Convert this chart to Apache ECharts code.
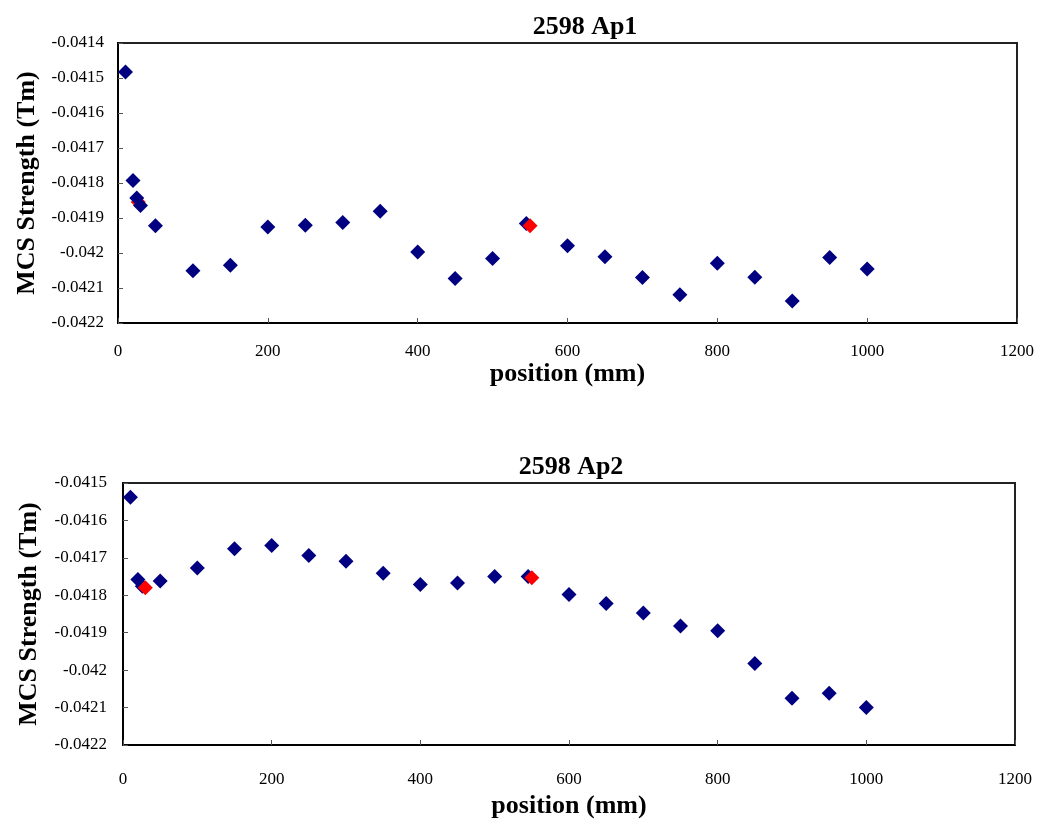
<!DOCTYPE html>
<html>
<head>
<meta charset="utf-8">
<script src="https://cdn.jsdelivr.net/npm/echarts@6/dist/echarts.min.js"></script>
<style>
  html, body { margin: 0; padding: 0; background: #fff; }
  #chart { width: 1040px; height: 820px; }
</style>
</head>
<body>
<div id="chart"></div>
<script>
// ---- Data ----
var ap1Title = '2598 Ap1';
var ap2Title = '2598 Ap2';
var xName = 'position (mm)';
var yName = 'MCS Strength (Tm)';

// Ap1 (top)
var ap1Blue = [
  [10, -0.041483], [20, -0.041793], [25, -0.041843], [30, -0.041864], [50, -0.041922],
  [100, -0.042051], [150, -0.042035], [200, -0.041926], [250, -0.041921], [300, -0.041913],
  [350, -0.041881], [400, -0.041997], [450, -0.042073], [500, -0.042016], [545, -0.041916],
  [600, -0.041979], [650, -0.042011], [700, -0.042070], [750, -0.042119], [800, -0.042029],
  [850, -0.042069], [900, -0.042137], [950, -0.042013], [1000, -0.042046]
];
var ap1RedUnder = [[27, -0.041854]];
var ap1RedOver = [[550, -0.041922]];

// Ap2 (bottom)
var ap2Blue = [
  [10, -0.041538], [20, -0.041758], [26, -0.041776], [50, -0.041762], [100, -0.041727],
  [150, -0.041676], [200, -0.041667], [250, -0.041694], [300, -0.041709], [350, -0.041741],
  [400, -0.041771], [450, -0.041767], [500, -0.041750], [545, -0.041750], [600, -0.041798],
  [650, -0.041822], [700, -0.041847], [750, -0.041882], [800, -0.041895], [850, -0.041982],
  [900, -0.042075], [950, -0.042062], [1000, -0.042100]
];
var ap2Red = [[30, -0.041780], [550, -0.041753]];

// Axis ranges
var xMin = 0, xMax = 1200, xStep = 200;
var ap1YMin = -0.0422, ap1YMax = -0.0414;
var ap2YMin = -0.0422, ap2YMax = -0.0415;
var yStep = 0.0001;

// ---- Styles ----
var FONT = '"Liberation Serif", "Times New Roman", serif';
var BLUE = '#000080';
var RED = '#ff0000';

function fmtY(v) { return String(parseFloat(v.toFixed(5))); }

function xAxisCfg(gridIndex, labelMargin, nameGap) {
  return {
    type: 'value', gridIndex: gridIndex, min: xMin, max: xMax, interval: xStep,
    name: xName, nameLocation: 'middle', nameGap: nameGap,
    nameTextStyle: { fontFamily: FONT, fontSize: 26, fontWeight: 'bold', color: '#000', verticalAlign: 'top' },
    axisLine: { show: true, onZero: false, lineStyle: { color: '#000', width: 2 } },
    axisTick: { show: true, inside: true, length: 5, lineStyle: { color: '#555', width: 1 } },
    axisLabel: { fontFamily: FONT, fontSize: 17, color: '#000', margin: labelMargin,
      formatter: function (v) { return String(Math.round(v)); } },
    splitLine: { show: false }
  };
}
function yAxisCfg(gridIndex, min, max, labelMargin, nameGap) {
  return {
    type: 'value', gridIndex: gridIndex, min: min, max: max, interval: yStep,
    name: yName, nameLocation: 'middle', nameGap: nameGap,
    nameTextStyle: { fontFamily: FONT, fontSize: 26, fontWeight: 'bold', color: '#000' },
    axisLine: { show: true, onZero: false, lineStyle: { color: '#000', width: 2 } },
    axisTick: { show: true, inside: true, length: 5, lineStyle: { color: '#555', width: 1 } },
    axisLabel: { fontFamily: FONT, fontSize: 17, color: '#000', margin: labelMargin, formatter: fmtY },
    splitLine: { show: false }
  };
}
function scatter(name, data, xi, color, z) {
  return {
    name: name, type: 'scatter', xAxisIndex: xi, yAxisIndex: xi, data: data,
    symbol: 'diamond', symbolSize: 15, z: z,
    itemStyle: { color: color, opacity: 1 },
    emphasis: { disabled: true }
  };
}

var chart = echarts.init(document.getElementById('chart'), null, { renderer: 'canvas' });
chart.setOption({
  animation: false,
  backgroundColor: '#fff',
  title: [
    { text: ap1Title, left: 580, top: 9, textAlign: 'center',
      textStyle: { fontFamily: FONT, fontSize: 26, fontWeight: 'bold', color: '#000' } },
    { text: ap2Title, left: 566, top: 449, textAlign: 'center',
      textStyle: { fontFamily: FONT, fontSize: 26, fontWeight: 'bold', color: '#000' } }
  ],
  grid: [
    { left: 118, top: 43, width: 899, height: 280, show: true, borderColor: '#222', borderWidth: 2, backgroundColor: 'transparent' },
    { left: 123, top: 483, width: 892, height: 262, show: true, borderColor: '#222', borderWidth: 2, backgroundColor: 'transparent' }
  ],
  xAxis: [ xAxisCfg(0, 20, 35), xAxisCfg(1, 26, 48) ],
  yAxis: [ yAxisCfg(0, ap1YMin, ap1YMax, 14, 78), yAxisCfg(1, ap2YMin, ap2YMax, 16, 81) ],
  series: [
    scatter('Ap1 ref', ap1RedUnder, 0, RED, 2),
    scatter('Ap1', ap1Blue, 0, BLUE, 3),
    scatter('Ap1 ref 2', ap1RedOver, 0, RED, 4),
    scatter('Ap2', ap2Blue, 1, BLUE, 3),
    scatter('Ap2 ref', ap2Red, 1, RED, 4)
  ]
});
</script>
</body>
</html>
